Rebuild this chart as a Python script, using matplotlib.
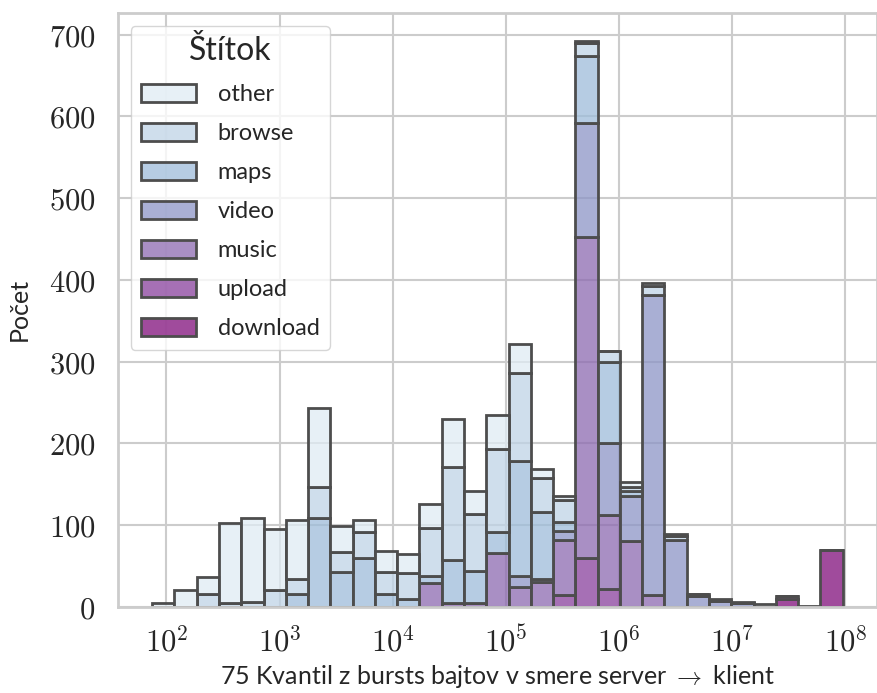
import numpy as np
import pandas as pd
import matplotlib
matplotlib.use('Agg')
import matplotlib.pyplot as plt
import seaborn as sns

# bin layout (log10 of bytes)
log_lo = 1.874
log_hi = 7.975
n_bins = 31

labels = ['other', 'browse', 'maps', 'video', 'music', 'upload', 'download']

other = [5, 20, 21, 97, 103, 75, 72, 97, 32, 14, 26, 23, 30, 59, 29, 42,
         35, 11, 4, 2, 0, 5, 4, 2, 0, 3, 2, 3, 0, 1, 0]
browse = [0, 0, 15, 5, 6, 20, 19, 38, 24, 32, 26, 32, 58, 114, 69, 102,
          108, 41, 27, 16, 13, 5, 11, 5, 3, 0, 0, 0, 0, 0, 0]
maps = [0, 0, 0, 0, 0, 0, 15, 108, 43, 60, 16, 9, 9, 52, 39, 25,
        141, 82, 11, 82, 100, 7, 0, 0, 0, 0, 0, 0, 0, 0, 0]
video = [0, 0, 0, 0, 0, 0, 0, 0, 0, 0, 0, 0, 0, 0, 0, 0,
         13, 4, 11, 140, 88, 55, 367, 82, 13, 7, 4, 0, 0, 0, 0]
music = [0, 0, 0, 0, 0, 0, 0, 0, 0, 0, 0, 0, 29, 5, 5, 66,
         24, 30, 68, 392, 90, 80, 14, 0, 0, 0, 0, 0, 0, 0, 0]
upload = [0, 0, 0, 0, 0, 0, 0, 0, 0, 0, 0, 0, 0, 0, 0, 0,
          0, 0, 14, 60, 22, 0, 0, 0, 0, 0, 0, 0, 3, 0, 0]
download = [0, 0, 0, 0, 0, 0, 0, 0, 0, 0, 0, 0, 0, 0, 0, 0,
            0, 0, 0, 0, 0, 0, 0, 0, 0, 0, 0, 0, 10, 0, 70]

counts = [other, browse, maps, video, music, upload, download]

edges = np.linspace(log_lo, log_hi, n_bins + 1)
centers = 10 ** ((edges[:-1] + edges[1:]) / 2)
rows = []
for lab, c in zip(labels, counts):
    for x, w in zip(centers, c):
        rows.append((x, w, lab))
df = pd.DataFrame(rows, columns=['x', 'w', 'label'])

sns.set_theme(style='whitegrid')
plt.rcParams['font.family'] = ['Lato', 'DejaVu Sans']
plt.rcParams['mathtext.fontset'] = 'cm'
plt.rcParams['grid.linewidth'] = 1.5

fig = plt.figure(figsize=(8.78, 6.93), dpi=100)
ax = fig.add_axes([0.134, 0.1245, 0.865, 0.857])
sns.histplot(data=df, x='x', weights='w', hue='label', hue_order=labels,
             multiple='stack', log_scale=True, bins=n_bins,
             binrange=(log_lo, log_hi), palette='BuPu',
             edgecolor='.3', linewidth=2, ax=ax)

xt = [10 ** i for i in range(2, 9)]
ax.set_xticks(xt)
ax.set_xticklabels(['$10^{%d}$' % i for i in range(2, 9)])
ax.minorticks_off()
yt = list(range(0, 701, 100))
ax.set_yticks(yt)
ax.set_yticklabels(['$%d$' % v for v in yt])
ax.tick_params(labelsize=22)
ax.tick_params(axis='y', pad=10)
ax.tick_params(axis='x', pad=7)
for s in ax.spines.values():
    s.set_linewidth(2)

ax.set_xlabel(r'75 Kvantil z bursts bajtov v smere server $\rightarrow$ klient',
              fontsize=18, labelpad=4)
ax.set_ylabel('Počet', fontsize=18, labelpad=13)

leg = ax.get_legend()
handles = leg.legend_handles
ax.legend(handles, labels, title='Štítok', loc='upper left',
          fontsize=17, title_fontsize=23, handlelength=2.3,
          handleheight=0.76, handletextpad=0.93, labelspacing=0.76,
          borderpad=0.45, borderaxespad=0.55)

plt.savefig('out.png')
